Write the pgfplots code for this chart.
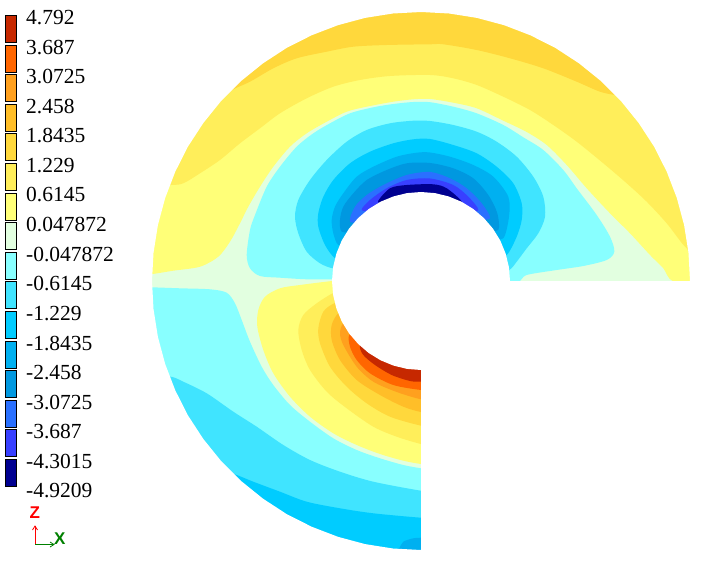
\documentclass[border=0pt]{standalone}
\usepackage{fontspec}
\setmainfont{Liberation Serif}
\newfontfamily\triad{Liberation Sans}
\usepackage{pgfplots}
\pgfplotsset{compat=1.18}
\definecolor{c01}{HTML}{C62800}
\definecolor{c02}{HTML}{FF6600}
\definecolor{c03}{HTML}{FFA01E}
\definecolor{c04}{HTML}{FFBE28}
\definecolor{c05}{HTML}{FFD83C}
\definecolor{c06}{HTML}{FFEE5A}
\definecolor{c07}{HTML}{FFFF78}
\definecolor{c08}{HTML}{E2FFE0}
\definecolor{c09}{HTML}{88FFFF}
\definecolor{c10}{HTML}{40E4FF}
\definecolor{c11}{HTML}{00CCFF}
\definecolor{c12}{HTML}{00B0F0}
\definecolor{c13}{HTML}{0098E0}
\definecolor{c14}{HTML}{2A70FF}
\definecolor{c15}{HTML}{3840FF}
\definecolor{c16}{HTML}{000090}
\definecolor{zred}{HTML}{FF0000}
\definecolor{xgreen}{HTML}{008000}
\pgfplotsset{region/.style={fill=#1,draw=none,line width=0pt,smooth,tension=0.5},
 box/.style={fill=#1,draw=black,line width=1pt}}
\newcommand{\lab}[2]{\node[anchor=base west,inner sep=0pt,text=black,font=\fontsize{21.5}{21.5}\selectfont] at (axis cs:26,#1) {#2};}
\begin{document}
\begin{tikzpicture}
\begin{axis}[hide axis,scale only axis,width=703pt,height=561pt,
 xmin=0,xmax=703,ymin=0,ymax=561,y dir=reverse]
% base level
\addplot[fill=c08,draw=none] coordinates {(0,0)(703,0)(703,561)(0,561)} -- cycle;
% upper yellows
\addplot[region=c07] coordinates {(140,275)(152.7,274)(173.3,270.7)(200,266.7)(218.3,256.7)(230,241.7)(240,223.3)(248.3,206.7)(260,186.7)(273.3,166.7)(290,146.7)(306.7,133.3)(326.7,121.7)(346.7,111.7)(366.7,106.7)(393.3,101.7)(413.3,99.3)(430,99)(453.3,102.7)(476.7,108.3)(503.3,120.7)(526.7,132)(546.7,145)(566.7,165)(586.7,188.3)(610,213.3)(630,233.3)(650,255)(663.3,268.3)(672.7,281)(700,281)(700,0)(140,0)} -- cycle;
\addplot[region=c06] coordinates {(140,185)(170.7,185)(183.3,183.3)(200,173.3)(220,160)(240,143.3)(260,128.3)(280,113.3)(306.7,98.3)(333.3,86.7)(360,80)(390,76)(430,75)(453.3,78.3)(476.7,85)(503.3,96.7)(530,110)(553.3,125)(576.7,141.7)(603.3,163.3)(626.7,183.3)(646.7,201.7)(666.7,223.3)(686.7,248.3)(700,250)(700,0)(140,0)} -- cycle;
\addplot[region=c05] coordinates {(215,100)(231.7,90)(250,81.7)(273.3,68.3)(296.7,58.3)(326.7,51.7)(353.3,46.7)(386.7,45)(430,44.3)(443.3,44.3)(476.7,50)(510,58.3)(543.3,68.3)(576.7,81.7)(600,91.7)(616.7,95)(640,95)(640,0)(215,0)} -- cycle;
% upper negative lobe
\addplot[region=c09] coordinates {(332,279.3)(306.7,279.3)(280,277.7)(260,276)(250,268.3)(246.7,255)(250,230)(255,215)(266.7,186.7)(280,166.7)(296.7,146.7)(313.3,133.3)(330,123.3)(350,113.3)(373.3,107.3)(393.3,104)(413.3,102)(430,102.2)(453.3,106.7)(476.7,113.3)(503.3,125)(523.3,137.3)(543.3,150)(563.3,170)(576.7,188.3)(596.7,215)(610,236.7)(614.3,251.7)(606.7,260)(583.3,266)(556.7,270)(526.7,275)(520,281)(510,281)} -- cycle;
\addplot[region=c10] coordinates {(345,268)(332.7,268.3)(320,263.3)(306.7,251.7)(298.3,233.3)(295,216.7)(298.3,200)(310,180)(326.7,160)(346.7,141.7)(366.7,130)(390,123.3)(413.3,120.7)(430,121)(453.3,125)(476.7,131.7)(496.7,141.7)(516.7,156.7)(533.3,176.7)(543.3,196.7)(545,216.7)(538.3,233.3)(526.7,248.3)(516.7,261.7)(509,270)(495,270)} -- cycle;
\addplot[region=c11] coordinates {(345,258)(335,258.3)(325,245)(318.3,226.7)(318.3,213.3)(323.3,196.7)(333.3,180)(350,163.3)(370,151.7)(393.3,143.3)(413.3,139.3)(430,139)(453.3,145)(476.7,153.3)(496.7,166.7)(513.3,183.3)(521.7,203.3)(521.7,220)(516.7,236.7)(506.7,255)(495,255)} -- cycle;
\addplot[region=c12] coordinates {(350,245)(338.3,245)(333.3,233.3)(331.7,220)(335,206.7)(343.3,193.3)(356.7,176.7)(373.3,166.7)(396.7,156.7)(416.7,152.7)(430,152.5)(450,156.7)(473.3,165)(493.3,176.7)(508.3,196.7)(509,216.7)(503.3,238.3)(490,238)} -- cycle;
\addplot[region=c13] coordinates {(355,232)(341.7,231.7)(340,220)(343.3,206.7)(353.3,193.3)(366.7,180)(386.7,170)(406.7,163.3)(430,163)(453.3,168.3)(473.3,178.3)(488.3,195)(497.3,213.3)(498.3,230)(485,230)} -- cycle;
\addplot[region=c14] coordinates {(365,222)(350,221.7)(355,206.7)(366.7,195)(383.3,185)(406.7,175)(430,172)(450,178.3)(466.7,188.3)(481.7,203.3)(490,218.3)(475,220)} -- cycle;
\addplot[region=c15] coordinates {(375,212)(361.7,210)(370,200)(386.7,188.3)(406.7,180)(430,178.5)(453.3,185)(468.3,196.7)(478.3,210)(465,212)} -- cycle;
\addplot[region=c16] coordinates {(385,205)(378,201.5)(390,188.3)(406.7,185)(433.3,184.3)(446.7,188.3)(461.7,201.5)(455,205)} -- cycle;
% lower negative band
\addplot[region=c09] coordinates {(140,287)(152,287.3)(180,288.3)(210,289.3)(226.7,292.7)(235,303.3)(241.7,320)(250,341.7)(261.7,366.7)(273.3,385)(290,405)(310,421.7)(333.3,438.3)(356.7,450)(380,458.3)(403.3,465)(421,468.3)(440,471)(440,561)(140,561)} -- cycle;
\addplot[region=c10] coordinates {(150,377)(170.7,376.7)(183.3,381.7)(206.7,393.3)(233.3,411.7)(256.7,426.7)(283.3,445)(310,460)(340,471.7)(373.3,481.7)(421,490.7)(440,492)(440,561)(150,561)} -- cycle;
\addplot[region=c11] coordinates {(225,472)(236.7,475)(253.3,481.7)(280,491.7)(306.7,501.7)(340,508.3)(373.3,513.3)(421,517.7)(440,518)(440,561)(225,561)} -- cycle;
\addplot[region=c12] coordinates {(395,553)(399.3,548.3)(403.3,541.7)(413.3,538.3)(421,537.7)(440,537)(440,561)(395,561)} -- cycle;
% lower positive lobe
\addplot[region=c07] coordinates {(345,280)(332,281)(300,285)(280,288.3)(265,296.7)(258.3,310)(257.3,326.7)(263.3,350)(273.3,373.3)(290,396.7)(310,416.7)(333.3,433.3)(356.7,445)(380,454)(403.3,460.7)(421,464)(440,466)(440,280)} -- cycle;
\addplot[region=c06] coordinates {(345,290)(332.7,293.3)(316.7,303.3)(303.3,315)(298.3,330)(301.7,350)(310,370)(326.7,391.7)(346.7,408.3)(373.3,426.7)(396.7,436.7)(421,444)(440,447)(440,290)} -- cycle;
\addplot[region=c05] coordinates {(350,300)(334.3,303.3)(323.3,311.7)(318.3,328.3)(320,343.3)(330,366.7)(346.7,386.7)(366.7,403.3)(390,416.7)(421,425.7)(440,428)(440,300)} -- cycle;
\addplot[region=c04] coordinates {(350,310)(338.3,313.3)(331.7,325)(331.7,340)(340,360)(356.7,380)(380,395)(403.3,406.7)(421,412)(440,414)(440,310)} -- cycle;
\addplot[region=c03] coordinates {(355,320)(343.3,323.3)(340,333.3)(343.3,345)(356.7,366.7)(373.3,381.7)(396.7,392)(421,399.3)(440,401)(440,320)} -- cycle;
\addplot[region=c02] coordinates {(360,332)(349.3,335)(350,346.7)(356.7,360)(370,373.3)(393.3,385)(421,390)(440,391)(440,332)} -- cycle;
\addplot[region=c01] coordinates {(370,342)(360,345.7)(363.3,355)(375,365)(391.7,375)(410,381)(421,381.7)(440,382)(440,342)} -- cycle;
% everything outside the 270 degree annular sector is blank
\addplot[fill=white,draw=none,even odd rule] coordinates {
(703,281)(703,0)(0,0)(0,561)(703,561)(703,281)
(690,281)(688.5,252.9)(684.1,225.1)(676.8,197.9)(666.7,171.6)(654.0,146.5)(638.6,122.9)(620.9,101.0)(601.0,81.1)(579.1,63.4)(555.5,48.0)(530.4,35.3)(504.1,25.2)(476.9,17.9)(449.1,13.5)(421,12)
(392.9,13.5)(365.1,17.9)(337.9,25.2)(311.6,35.3)(286.5,48.0)(262.9,63.4)(241.0,81.1)(221.1,101.0)(203.4,122.9)(188.0,146.5)(175.3,171.6)(165.2,197.9)(157.9,225.1)(153.5,252.9)(152,281)
(153.5,309.1)(157.9,336.9)(165.2,364.1)(175.3,390.4)(188.0,415.5)(203.4,439.1)(221.1,461.0)(241.0,480.9)(262.9,498.6)(286.5,514.0)(311.6,526.7)(337.9,536.8)(365.1,544.1)(392.9,548.5)(421,550)
(421,370)(407.1,368.9)(393.5,365.6)(380.6,360.3)(368.7,353.0)(358.1,343.9)(349.0,333.3)(341.7,321.4)(336.4,308.5)(333.1,294.9)(332,281)
(333.1,267.1)(336.4,253.5)(341.7,240.6)(349.0,228.7)(358.1,218.1)(368.7,209.0)(380.6,201.7)(393.5,196.4)(407.1,193.1)(421,192)
(434.9,193.1)(448.5,196.4)(461.4,201.7)(473.3,209.0)(483.9,218.1)(493.0,228.7)(500.3,240.6)(505.6,253.5)(508.9,267.1)(510,281)(690,281)
} -- cycle;
% colour key
\addplot[box=c01] coordinates {(5.8,15.8)(16.2,15.8)(16.2,42.8)(5.8,42.8)} -- cycle;
\addplot[box=c02] coordinates {(5.8,45.4)(16.2,45.4)(16.2,72.4)(5.8,72.4)} -- cycle;
\addplot[box=c03] coordinates {(5.8,74.9)(16.2,74.9)(16.2,101.9)(5.8,101.9)} -- cycle;
\addplot[box=c04] coordinates {(5.8,104.5)(16.2,104.5)(16.2,131.5)(5.8,131.5)} -- cycle;
\addplot[box=c05] coordinates {(5.8,134.0)(16.2,134.0)(16.2,161.0)(5.8,161.0)} -- cycle;
\addplot[box=c06] coordinates {(5.8,163.6)(16.2,163.6)(16.2,190.6)(5.8,190.6)} -- cycle;
\addplot[box=c07] coordinates {(5.8,193.2)(16.2,193.2)(16.2,220.2)(5.8,220.2)} -- cycle;
\addplot[box=c08] coordinates {(5.8,222.7)(16.2,222.7)(16.2,249.7)(5.8,249.7)} -- cycle;
\addplot[box=c09] coordinates {(5.8,252.3)(16.2,252.3)(16.2,279.3)(5.8,279.3)} -- cycle;
\addplot[box=c10] coordinates {(5.8,281.8)(16.2,281.8)(16.2,308.8)(5.8,308.8)} -- cycle;
\addplot[box=c11] coordinates {(5.8,311.4)(16.2,311.4)(16.2,338.4)(5.8,338.4)} -- cycle;
\addplot[box=c12] coordinates {(5.8,341.0)(16.2,341.0)(16.2,368.0)(5.8,368.0)} -- cycle;
\addplot[box=c13] coordinates {(5.8,370.5)(16.2,370.5)(16.2,397.5)(5.8,397.5)} -- cycle;
\addplot[box=c14] coordinates {(5.8,400.1)(16.2,400.1)(16.2,427.1)(5.8,427.1)} -- cycle;
\addplot[box=c15] coordinates {(5.8,429.6)(16.2,429.6)(16.2,456.6)(5.8,456.6)} -- cycle;
\addplot[box=c16] coordinates {(5.8,459.2)(16.2,459.2)(16.2,486.8)(5.8,486.8)} -- cycle;
\lab{24.5}{4.792}
\lab{54.1}{3.687}
\lab{83.7}{3.0725}
\lab{113.3}{2.458}
\lab{142.9}{1.8435}
\lab{172.4}{1.229}
\lab{202.0}{0.6145}
\lab{231.6}{0.047872}
\lab{261.2}{-0.047872}
\lab{290.8}{-0.6145}
\lab{320.4}{-1.229}
\lab{350.0}{-1.8435}
\lab{379.6}{-2.458}
\lab{409.2}{-3.0725}
\lab{438.8}{-3.687}
\lab{468.4}{-4.3015}
\lab{497.9}{-4.9209}
% coordinate triad
\addplot[zred,line width=0.8pt] coordinates {(35,544.5)(35,526)};
\addplot[zred,line width=0.8pt] coordinates {(32.5,530)(35,526)(37.5,530)};
\addplot[xgreen,line width=0.8pt] coordinates {(35,544.5)(54,544.5)};
\addplot[xgreen,line width=0.8pt] coordinates {(50,542)(54,544.5)(50,547)};
\node[anchor=base,inner sep=0pt,text=zred,font=\triad\bfseries\fontsize{17}{17}\selectfont] at (axis cs:34.8,518.7) {Z};
\node[anchor=base,inner sep=0pt,text=xgreen,font=\triad\bfseries\fontsize{17}{17}\selectfont] at (axis cs:59.7,544.3) {X};
\end{axis}
\end{tikzpicture}
\end{document}
